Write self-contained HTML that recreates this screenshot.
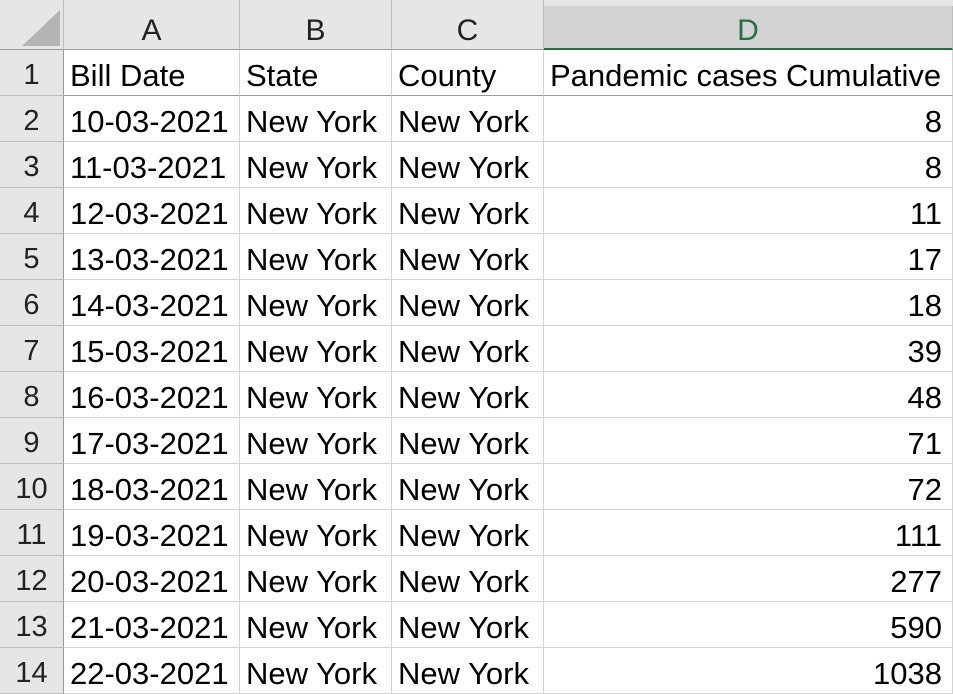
<!DOCTYPE html>
<html><head><meta charset="utf-8"><style>
body{margin:0;width:953px;height:694px;overflow:hidden;background:#fff;font-family:"Liberation Sans",Arial,sans-serif;}
#sheet{position:relative;width:953px;height:694px;}
#topbar{position:absolute;left:0;top:0;width:953px;height:50px;background:#e6e6e6;}
.c{position:absolute;box-sizing:border-box;font-size:31px;line-height:46px;white-space:nowrap;overflow:hidden;color:#000;}
.h{background:#e6e6e6;text-align:center;color:#222;}
</style></head><body>
<div id="sheet"><div id="topbar"></div></div>
<script>
const cols=[{x:64,w:176,l:'A'},{x:240,w:152,l:'B'},{x:392,w:152,l:'C'},{x:544,w:409,l:'D'}];
const headers=['Bill Date','State','County','Pandemic cases Cumulative'];
const dates=['10-03-2021','11-03-2021','12-03-2021','13-03-2021','14-03-2021','15-03-2021','16-03-2021','17-03-2021','18-03-2021','19-03-2021','20-03-2021','21-03-2021','22-03-2021'];
const cases=[8,8,11,17,18,39,48,71,72,111,277,590,1038];
const S=document.getElementById('sheet');
function cell(x,y,w,h,txt,cls,st){const d=document.createElement('div');d.className='c '+cls;d.style.cssText=`left:${x}px;top:${y}px;width:${w}px;height:${h}px;`+(st||'');d.textContent=txt;S.appendChild(d);return d;}
const corner=cell(0,0,64,50,'','h','border-right:1px solid #bdbdbd;border-bottom:1px solid #9b9b9b;');


corner.innerHTML='<svg width="64" height="50" style="position:absolute;left:0;top:0"><polygon points="22,46 60,46 60,10" fill="#b4b4b4"/></svg>';
cols.forEach((c,i)=>{
 const sel=i===3;
 const d=cell(c.x,0,c.w,50,c.l,'h','line-height:62px;font-size:30px;border-right:1px solid #bdbdbd;'+(sel?'background:#d2d2d2;color:#217346;border-bottom:2px solid #217346;top:6px;height:44px;line-height:50px;':'border-bottom:1px solid #9b9b9b;'));
 
 
});
for(let r=0;r<14;r++){
 const y=50+r*46;
 const rh=cell(0,y,64,46,String(r+1),'h','line-height:50px;font-size:29px;border-right:1px solid #9b9b9b;border-bottom:1px solid #bdbdbd;');
 
 
 const vals=r===0?headers:[dates[r-1],'New York','New York',String(cases[r-1])];
 vals.forEach((v,i)=>{
  const c=cols[i];
  const right=i===3&&r>0;
  const d=cell(c.x,y,c.w,46,v,'','padding:'+(right?'0 10px 0 0':'0 0 0 6px')+';line-height:52px;text-align:'+(right?'right':'left')+';border-right:1px solid #d4d4d4;border-bottom:1px solid #d4d4d4;'+(r===0?'border-bottom:1px solid #9b9b9b;':''));
  
  
 });
}
</script>
</body></html>
